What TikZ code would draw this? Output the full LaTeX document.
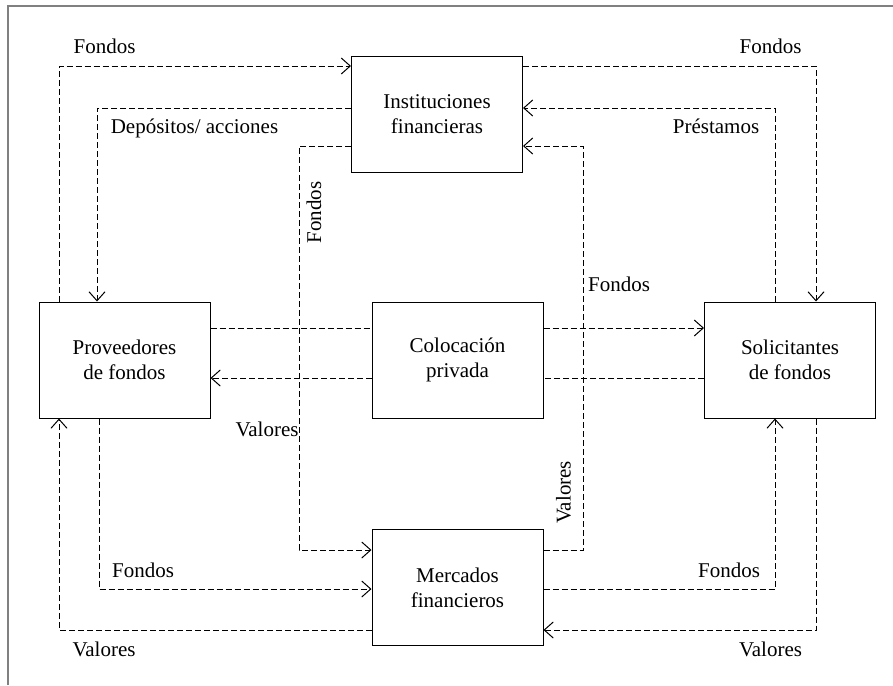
\documentclass[tikz,border=0pt]{standalone}
\usepackage{fontspec}
\setmainfont{Liberation Serif}
\newfontfamily\diagramfont{Liberation Serif}
\usetikzlibrary{arrows.meta}
\begin{document}
\begin{tikzpicture}[x=0.5pt,y=-0.5pt,
  font=\diagramfont\fontsize{10.5pt}{12.5pt}\selectfont,
  box/.style={draw,line width=0.5pt,inner sep=0pt,minimum width=85.5pt,minimum height=58pt,align=center},
  flow/.style={line width=0.5pt,dash pattern=on 3pt off 1.5pt},
  arr/.style={flow,-{Straight Barb[length=4.5pt,width=8pt,line width=0.5pt]}},
  lbl/.style={inner sep=0pt,anchor=base}]
\useasboundingbox (0,0) rectangle (893,685);
\draw[gray,line width=0.8pt] (8,685) -- (8,6) -- (893,6);

% institutions and markets
\node[box] (inst) at (437,114) {Instituciones\\financieras};
\node[box] (prov) at (124.5,360) {Proveedores\\de fondos};
\node[box] (col)  at (457.5,360) {Colocación\\privada};
\node[box] (sol)  at (790,360) {Solicitantes\\de fondos};
\node[box] (merc) at (457.5,587.5) {Mercados\\financieros};

% bend points of the flows
\coordinate (c1) at (59,66);
\coordinate (c2) at (97,108);
\coordinate (c3) at (299,146);
\coordinate (c3b) at (299,550);
\coordinate (c4) at (816,66);
\coordinate (c5) at (775,108);
\coordinate (c6) at (583,146);
\coordinate (c6b) at (583,550);
\coordinate (h1) at (0,328);
\coordinate (h2) at (0,378);
\coordinate (c10) at (99,589);
\coordinate (c11) at (59,630);
\coordinate (c12) at (775,589);
\coordinate (c13) at (816,630);

% flows through financial institutions
\draw[arr] (c1 |- prov.north) -- (c1) -- (c1 -| inst.west);
\draw[arr] (c2 -| inst.west) -- (c2) -- (c2 |- prov.north);
\draw[arr] (c3 -| inst.west) -- (c3) -- (c3b) -- (c3b -| merc.west);
\draw[arr] (c4 -| inst.east) -- (c4) -- (c4 |- sol.north);
\draw[arr] (c5 |- sol.north) -- (c5) -- (c5 -| inst.east);
\draw[arr] (c6b -| merc.east) -- (c6b) -- (c6) -- (c6 -| inst.east);

% private placement
\draw[flow] (prov.east |- h1) -- (col.west |- h1);
\draw[arr] (col.east |- h1) -- (sol.west |- h1);
\draw[flow] (sol.west |- h2) -- (col.east |- h2);
\draw[arr] (col.west |- h2) -- (prov.east |- h2);

% flows through financial markets
\draw[arr] (c10 |- prov.south) -- (c10) -- (c10 -| merc.west);
\draw[arr] (c11 -| merc.west) -- (c11) -- (c11 |- prov.south);
\draw[arr] (c12 -| merc.east) -- (c12) -- (c12 |- sol.south);
\draw[arr] (c13 |- sol.south) -- (c13) -- (c13 -| merc.east);

% labels
\node[lbl] (l1) at (104.5,53) {Fondos};
\node[lbl] (l2) at (194.5,133.5) {Depósitos/ acciones};
\node[lbl] (l3) at (770.5,53) {Fondos};
\node[lbl] (l4) at (716,133.5) {Préstamos};
\node[lbl] (l5) at (619,291) {Fondos};
\node[lbl] (l6) at (267,436.5) {Valores};
\node[inner sep=0pt,rotate=90] (l7) at (314,212.5) {Fondos};
\node[inner sep=0pt,rotate=90] (l8) at (563.5,492.5) {Valores};
\node[lbl] (l9) at (143,577.5) {Fondos};
\node[lbl] (l10) at (104,656.5) {Valores};
\node[lbl] (l11) at (729,577) {Fondos};
\node[lbl] (l12) at (770.5,656.5) {Valores};
\end{tikzpicture}
\end{document}
